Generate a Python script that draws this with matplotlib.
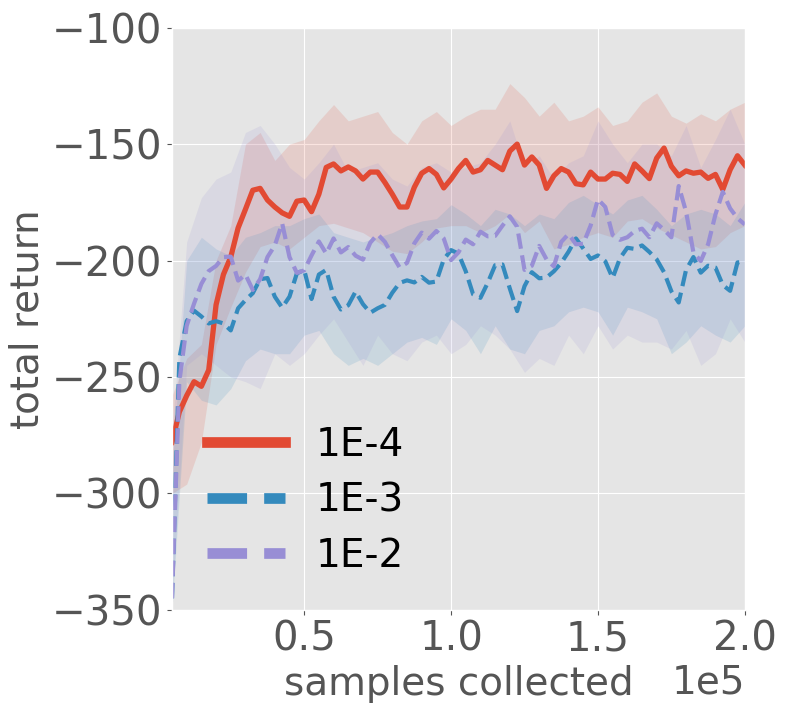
import numpy as np
import matplotlib
matplotlib.use("Agg")
import matplotlib.pyplot as plt

# x positions (samples collected)
steps = np.arange(5000, 200001, 2500)
band_steps = np.arange(5000, 200001, 5000)

labels = ["1E-4", "1E-3", "1E-2"]

ret_1e4 = [-278, -265, -258, -252, -254, -247, -219, -206, -198.5, -186,
           -178, -169.8, -169, -174, -177, -179.5, -181, -174.5, -174, -179,
           -171.5, -160, -158.5, -161.5, -159.8, -161.5, -165, -162, -162, -166.5,
           -171.5, -177, -177, -168.5, -162.5, -160.5, -163, -168.8, -165, -160.5,
           -157, -162, -161, -157, -159, -161, -153, -150, -159, -155.5,
           -159, -169, -163.6, -160.5, -162, -167, -167.5, -162, -165, -165,
           -162.5, -163, -166, -158.5, -161.5, -164.8, -156, -151.7, -159.5, -163.6,
           -161.5, -162.5, -162, -164.7, -163, -169.5, -161, -155, -159]

ret_1e3 = [-345, -242, -226, -221.5, -224, -227, -226, -227, -230, -220.5,
           -217, -214, -208, -207.5, -215.5, -220.2, -215.5, -205.5, -204, -216.5,
           -206, -204, -215.5, -221, -219.2, -213.3, -218.7, -222.4, -220.5, -219,
           -213.8, -209.6, -208.5, -209.4, -207, -209.5, -209, -199.5, -195.5, -197,
           -204.6, -214.5, -216, -209.5, -202, -201.7, -212, -221.7, -211, -205,
           -207.6, -207.3, -204.6, -201, -196.2, -190.5, -194.8, -199.3, -197.8, -200.3,
           -207.5, -199, -194.5, -195, -193.5, -196.3, -199.5, -205, -213.2, -218,
           -204, -198.5, -205.2, -202.2, -203, -210.5, -213, -200.8, -200.5]

ret_1e2 = [-345, -252, -228, -218.5, -210, -204.5, -202.3, -198.5, -198.3, -208.6,
           -206, -212.6, -208, -198.5, -193.5, -184, -198.5, -205.3, -204.2, -197.8,
           -191.8, -197, -190.5, -196.5, -194.2, -197.9, -199.6, -192.3, -188.7, -192,
           -197.7, -203, -201, -192.6, -188, -190.6, -187.3, -190.5, -199.8, -196.5,
           -191, -193, -187.6, -189.6, -189.4, -185, -181, -185.5, -204, -202.2,
           -193.7, -199.5, -202.5, -192, -188.6, -193, -192.8, -185, -173.7, -177,
           -189, -191.1, -190, -187.3, -186.3, -190, -184, -186.8, -190, -168,
           -179, -196.5, -200.2, -193, -180.2, -170.5, -177.6, -181.8, -184.5]

# shaded spread, sampled every 5000
up_1e4 = [-258, -242, -236, -200, -185, -150, -145, -157, -150, -148,
          -140, -133, -140, -138, -136, -145, -150, -140, -136, -142,
          -138, -135, -135, -124, -130, -138, -132, -140, -138, -134,
          -142, -140, -132, -128, -138, -141, -137, -140, -135, -132]
lo_1e4 = [-300, -296, -278, -236, -220, -205, -194, -192, -195, -190,
          -185, -184, -186, -188, -192, -196, -197, -192, -186, -185,
          -185, -188, -185, -180, -188, -183, -195, -193, -190, -188,
          -190, -183, -182, -186, -189, -192, -195, -194, -188, -185]
up_1e3 = [-290, -200, -190, -195, -198, -190, -188, -185, -185, -182,
          -180, -188, -190, -192, -190, -188, -185, -183, -182, -176,
          -180, -185, -178, -180, -185, -180, -182, -175, -172, -176,
          -180, -174, -172, -178, -185, -180, -178, -180, -185, -175]
lo_1e3 = [-350, -252, -260, -262, -255, -243, -238, -240, -240, -232,
          -230, -240, -245, -242, -245, -240, -235, -233, -236, -225,
          -230, -240, -228, -238, -240, -230, -228, -222, -220, -222,
          -232, -220, -222, -225, -240, -235, -228, -232, -235, -228]
up_1e2 = [-275, -192, -173, -165, -162, -145, -142, -150, -160, -165,
          -158, -150, -162, -160, -158, -165, -168, -160, -158, -162,
          -160, -158, -150, -140, -160, -155, -165, -158, -155, -140,
          -150, -158, -150, -150, -155, -142, -160, -148, -135, -150]
lo_1e2 = [-345, -245, -240, -245, -250, -252, -255, -240, -245, -240,
          -232, -225, -235, -245, -232, -240, -243, -235, -232, -240,
          -236, -228, -232, -238, -248, -242, -245, -232, -240, -228,
          -238, -232, -235, -235, -238, -230, -245, -240, -225, -235]

colors = ["#E24A33", "#348ABD", "#988ED5"]
styles = ["-", "--", "--"]
widths = [3.8, 3.0, 3.0]

plt.style.use("ggplot")
fig = plt.figure(figsize=(7.89, 7.10), dpi=100)
ax = fig.add_axes([0.218, 0.141, 0.726, 0.820])

means = [ret_1e4, ret_1e3, ret_1e2]
uppers = [up_1e4, up_1e3, up_1e2]
lowers = [lo_1e4, lo_1e3, lo_1e2]

for i in range(3):
    ax.fill_between(band_steps, lowers[i], uppers[i], color=colors[i], alpha=0.15, linewidth=0)
for i in range(3):
    ax.plot(steps, means[i], styles[i], color=colors[i], linewidth=widths[i], label=labels[i])

ax.set_xlim(5000, 200000)
ax.set_ylim(-350, -100)
ax.set_xticks([50000, 100000, 150000, 200000])
ax.set_yticks([-350, -300, -250, -200, -150, -100])
ax.ticklabel_format(axis="x", style="sci", scilimits=(0, 0))
ax.tick_params(labelsize=29)
ax.xaxis.get_offset_text().set_fontsize(28)
ax.set_xlabel("samples collected", fontsize=28, color="#555555")
ax.set_ylabel("total return", fontsize=28, color="#555555")

leg = ax.legend(loc="lower left", fontsize=28, labelspacing=0.45, frameon=False)
for line in leg.get_lines():
    line.set_linewidth(7.7)

fig.savefig("out.png", dpi=100)
